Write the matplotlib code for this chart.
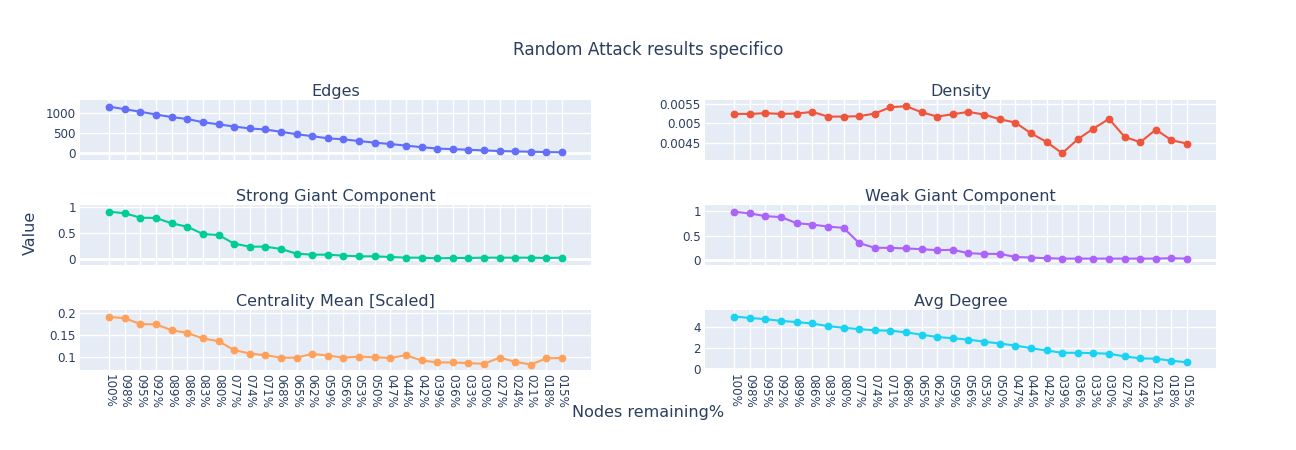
import matplotlib
matplotlib.use("Agg")
from matplotlib import pyplot as plt
from matplotlib.ticker import FixedLocator, FuncFormatter

plt.rcParams["font.family"] = ["DejaVu Sans"]

# x categories
nodes_remaining = ["100%", "098%", "095%", "092%", "089%", "086%", "083%", "080%", "077%", "074%",
                   "071%", "068%", "065%", "062%", "059%", "056%", "053%", "050%", "047%", "044%",
                   "042%", "039%", "036%", "033%", "030%", "027%", "024%", "021%", "018%", "015%"]

edges = [1170, 1105, 1040, 970, 905, 855, 775, 720, 665, 615, 590, 530, 470, 420, 365,
         340, 295, 255, 220, 180, 140, 105, 90, 75, 58, 42, 32, 25, 15, 10]
density = [0.005241, 0.005241, 0.005259, 0.005241, 0.00525, 0.005293, 0.005172, 0.005172,
           0.005181, 0.00525, 0.005414, 0.00544, 0.005284, 0.005172, 0.005233, 0.005293,
           0.005224, 0.005103, 0.005017, 0.004741, 0.004517, 0.004224, 0.004586, 0.004862,
           0.005112, 0.004647, 0.004509, 0.004836, 0.00456, 0.004474]
strong_gc = [0.917, 0.885, 0.801, 0.795, 0.692, 0.628, 0.487, 0.468, 0.301, 0.244,
             0.244, 0.199, 0.109, 0.09, 0.09, 0.071, 0.058, 0.058, 0.045, 0.032,
             0.032, 0.019, 0.026, 0.026, 0.032, 0.032, 0.032, 0.032, 0.026, 0.032]
weak_gc = [0.986, 0.952, 0.897, 0.877, 0.753, 0.726, 0.685, 0.658, 0.349, 0.253,
           0.253, 0.24, 0.226, 0.205, 0.212, 0.144, 0.13, 0.13, 0.068, 0.055,
           0.041, 0.034, 0.034, 0.034, 0.034, 0.034, 0.034, 0.034, 0.041, 0.034]
centrality = [0.1907, 0.1876, 0.1744, 0.1736, 0.1605, 0.1543, 0.1419, 0.1357, 0.1155, 0.1078,
              0.1039, 0.0984, 0.0984, 0.107, 0.1031, 0.0984, 0.1008, 0.0992, 0.0977, 0.1039,
              0.0922, 0.0876, 0.0876, 0.086, 0.0845, 0.0984, 0.0891, 0.0829, 0.0969, 0.0977]
avg_degree = [4.97, 4.84, 4.72, 4.56, 4.44, 4.31, 4.06, 3.91, 3.78, 3.66,
              3.63, 3.47, 3.25, 3.03, 2.91, 2.78, 2.59, 2.41, 2.22, 1.97,
              1.75, 1.53, 1.53, 1.5, 1.44, 1.19, 1.0, 0.97, 0.78, 0.63]

TXT = "#2a3f5f"
BG = "#E5ECF6"

panels = [
    ("Edges", edges, "#636EFA", [0, 500, 1000], (-186, 1339)),
    ("Density", density, "#EF553B", [0.0045, 0.005, 0.0055], (0.00405, 0.0056)),
    ("Strong Giant Component", strong_gc, "#00CC96", [0, 0.5, 1], (-0.109, 1.045)),
    ("Weak Giant Component", weak_gc, "#AB63FA", [0, 0.5, 1], (-0.096, 1.123)),
    ("Centrality Mean [Scaled]", centrality, "#FFA15A", [0.1, 0.15, 0.2], (0.0705, 0.2062)),
    ("Avg Degree", avg_degree, "#19D3F3", [0, 2, 4], (-0.1, 5.59)),
]

fig = plt.figure(figsize=(12.96, 4.5), dpi=100)
W, H = 1296.0, 450.0
lefts = [80, 705]
tops = [100, 205, 310]
pw, ph = 511, 60

xs = list(range(len(nodes_remaining)))

for i, (title, vals, color, ticks, ylim) in enumerate(panels):
    row, col = divmod(i, 2)
    ax = fig.add_axes([lefts[col] / W, 1 - (tops[row] + ph) / H, pw / W, ph / H])
    ax.set_facecolor(BG)
    for s in ax.spines.values():
        s.set_visible(False)
    ax.plot(xs, vals, "-o", color=color, lw=1.5, ms=4.6, zorder=3)
    ax.set_xlim(-1.87, 30.85)
    ax.set_ylim(*ylim)
    ax.yaxis.set_major_locator(FixedLocator(ticks))
    ax.yaxis.set_major_formatter(FuncFormatter(lambda v, p: "%g" % v))
    ax.set_xticks(xs)
    ax.grid(True, color="white", lw=1.0, zorder=0)
    ax.set_axisbelow(True)
    if 0 in ticks:
        ax.axhline(0, color="white", lw=2.0, zorder=1)
    ax.tick_params(axis="both", length=0, labelsize=8.6, colors=TXT, pad=3)
    if row == 2:
        ax.set_xticklabels(nodes_remaining, rotation=-90)
    else:
        ax.set_xticklabels([])
    ax.set_title(title, fontsize=11.5, color=TXT, pad=3)

fig.text(0.5, 1 - 50 / H, "Random Attack results specifico", ha="center", va="center",
         fontsize=12.2, color=TXT)
fig.text(30 / W, 1 - 233 / H, "Value", ha="center", va="center", rotation=90,
         fontsize=11.5, color=TXT)
fig.text(648 / W, 1 - 412 / H, "Nodes remaining%", ha="center", va="center",
         fontsize=11.5, color=TXT)

fig.savefig("out.png", dpi=100, facecolor="white")
